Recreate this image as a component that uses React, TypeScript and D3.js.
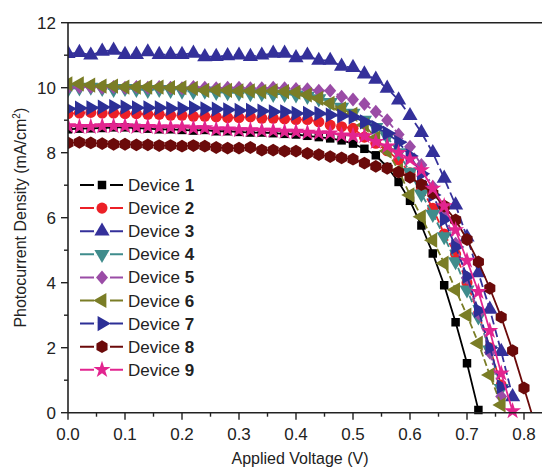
import React from "react";
import * as d3 from "d3";

// voltage steps (V)
const volts = d3.range(0, 42).map((i) => +(i * 0.02).toFixed(2));

const dev1 = [8.72, 8.74, 8.75, 8.76, 8.78, 8.78, 8.76, 8.74, 8.72, 8.72, 8.70, 8.68, 8.70, 8.66, 8.66, 8.64, 8.62, 8.62, 8.60, 8.58, 8.56, 8.52, 8.48, 8.44, 8.38, 8.28, 8.12, 7.92, 7.56, 7.10, 6.52, 5.76, 4.90, 3.92, 2.78, 1.52, 0.08];
const dev2 = [9.20, 9.22, 9.24, 9.22, 9.22, 9.20, 9.20, 9.18, 9.18, 9.15, 9.15, 9.12, 9.12, 9.10, 9.08, 9.08, 9.10, 9.06, 9.06, 9.04, 9.02, 9.02, 8.95, 8.85, 8.80, 8.75, 8.48, 8.29, 8.06, 7.78, 7.38, 6.90, 6.29, 5.50, 4.88, 4.00, 3.05, 2.00, 0.85];
const dev3 = [11.05, 11.08, 11.00, 11.12, 11.15, 11.02, 11.02, 11.10, 11.02, 11.02, 11.02, 11.06, 10.95, 10.96, 10.98, 11.00, 10.96, 11.00, 11.06, 11.06, 10.92, 11.00, 10.84, 10.84, 10.66, 10.62, 10.42, 10.26, 9.98, 9.62, 9.14, 8.62, 8.00, 7.21, 6.39, 5.40, 4.30, 3.18, 1.88, 0.49];
const dev4 = [9.95, 10.00, 10.02, 9.98, 9.95, 9.98, 9.95, 9.92, 9.95, 9.92, 9.90, 9.88, 9.90, 9.86, 9.85, 9.84, 9.82, 9.82, 9.80, 9.80, 9.78, 9.74, 9.66, 9.55, 9.40, 9.22, 9.00, 8.78, 8.49, 8.00, 7.40, 6.73, 6.11, 5.42, 4.65, 3.78, 2.95, 1.93, 0.75];
const dev5 = [10.00, 10.02, 10.02, 10.00, 10.02, 10.00, 10.02, 10.00, 10.02, 10.00, 9.98, 10.02, 10.00, 9.98, 10.00, 10.00, 9.98, 9.98, 10.00, 9.98, 9.96, 9.95, 9.91, 9.91, 9.72, 9.64, 9.50, 9.26, 9.00, 8.56, 8.18, 7.62, 6.95, 6.15, 5.20, 4.15, 3.05, 1.85, 0.50];
const dev6 = [10.12, 10.12, 10.08, 10.05, 10.05, 10.02, 10.02, 10.02, 10.02, 10.00, 10.00, 9.98, 9.92, 9.93, 9.92, 9.90, 9.90, 9.88, 9.90, 9.88, 9.86, 9.78, 9.67, 9.52, 9.35, 9.18, 8.85, 8.45, 8.05, 7.45, 6.70, 6.03, 5.31, 4.60, 3.78, 3.00, 2.14, 1.16, 0.24];
const dev7 = [9.35, 9.37, 9.38, 9.40, 9.42, 9.40, 9.38, 9.38, 9.38, 9.36, 9.36, 9.38, 9.35, 9.34, 9.32, 9.30, 9.30, 9.28, 9.26, 9.26, 9.21, 9.21, 9.21, 9.16, 9.13, 9.10, 8.95, 8.78, 8.60, 8.32, 7.90, 7.35, 6.70, 5.95, 5.10, 4.20, 3.15, 2.00, 0.80];
const dev8 = [8.30, 8.32, 8.30, 8.28, 8.26, 8.26, 8.24, 8.24, 8.22, 8.22, 8.20, 8.22, 8.20, 8.16, 8.14, 8.14, 8.16, 8.08, 8.08, 8.05, 8.05, 7.98, 7.94, 7.88, 7.84, 7.80, 7.68, 7.58, 7.52, 7.40, 7.24, 7.02, 6.75, 6.36, 5.93, 5.33, 4.64, 3.83, 2.94, 1.91, 0.76, -0.40];
const dev9 = [8.82, 8.80, 8.80, 8.82, 8.82, 8.82, 8.80, 8.80, 8.78, 8.78, 8.78, 8.76, 8.76, 8.72, 8.72, 8.70, 8.70, 8.68, 8.68, 8.65, 8.65, 8.62, 8.60, 8.60, 8.54, 8.52, 8.51, 8.34, 8.20, 8.00, 7.80, 7.47, 6.90, 6.36, 5.62, 4.68, 3.72, 2.52, 1.21, 0.05];

const labels = ["1", "2", "3", "4", "5", "6", "7", "8", "9"];
const colors = ["#000000", "#ec2027", "#34309a", "#3f8c8c", "#9a4ca6", "#7a7d26", "#2c2f96", "#6b0a0a", "#e2248f"];
const shapes = ["square", "circle", "up", "down", "diamond", "left", "right", "hexagon", "star"];
const dashes = ["none", "7,3", "9,4", "7,3", "7,3,2,3", "7,3", "9,3", "none", "none"];

const xTicks = [0, 0.1, 0.2, 0.3, 0.4, 0.5, 0.6, 0.7, 0.8];
const yTicks = [0, 2, 4, 6, 8, 10, 12];

const series = [dev1, dev2, dev3, dev4, dev5, dev6, dev7, dev8, dev9];

const W = 542;
const H = 470;
const left = 68;
const right = 541;
const top = 22.7;
const bottom = 412.7;

const x = d3.scaleLinear().domain([0, 0.83]).range([left, left + 0.83 * 570]);
const y = d3.scaleLinear().domain([0, 12]).range([bottom, top]);

function markerPath(shape: string): string {
  const tri = d3.symbol().type(d3.symbolTriangle).size(100)() as string;
  switch (shape) {
    case "square":
      return d3.symbol().type(d3.symbolSquare).size(72)() as string;
    case "circle":
      return d3.symbol().type(d3.symbolCircle).size(96)() as string;
    case "diamond":
      return "M0,-7L6,0L0,7L-6,0Z";
    case "star":
      return d3.symbol().type(d3.symbolStar).size(90)() as string;
    case "hexagon": {
      const r = 6.4;
      const pts = d3.range(6).map((i) => {
        const a = (Math.PI / 3) * i + Math.PI / 6;
        return [r * Math.cos(a), r * Math.sin(a)];
      });
      return "M" + pts.map((p) => p.join(",")).join("L") + "Z";
    }
    default:
      return tri;
  }
}

function rotation(shape: string) {
  if (shape === "down") return 180;
  if (shape === "left") return -90;
  if (shape === "right") return 90;
  return 0;
}

function Marker({ shape, color, cx, cy }: { shape: string; color: string; cx: number; cy: number }) {
  return (
    <path
      d={markerPath(shape)}
      fill={color}
      transform={`translate(${cx},${cy}) rotate(${rotation(shape)})`}
    />
  );
}

export default function App() {
  const line = d3
    .line<number>()
    .x((d, i) => x(volts[i]))
    .y((d) => y(d));

  const font = "Arial, 'Liberation Sans', sans-serif";
  const minorX = d3.range(0.05, 0.83, 0.1);
  const minorY = d3.range(1, 12, 2);

  return (
    <svg width={W} height={H} style={{ position: "absolute", left: 0, top: 0, background: "#fff" }}>
      <defs>
        <clipPath id="plotClip">
          <rect x={left} y={0} width={right - left} height={bottom + 8} />
        </clipPath>
        <clipPath id="lineClip">
          <rect x={left} y={0} width={right - left} height={bottom} />
        </clipPath>
      </defs>

      {/* series */}
      {series.map((vals, si) => (
        <g key={si}>
          <path
            d={line(vals) as string}
            fill="none"
            stroke={colors[si]}
            strokeWidth={1.8}
            strokeDasharray={dashes[si]}
            clipPath="url(#lineClip)"
          />
          <g clipPath="url(#plotClip)">
            {vals.map((v, i) =>
              v >= 0 ? (
                <Marker key={i} shape={shapes[si]} color={colors[si]} cx={x(volts[i])} cy={y(v)} />
              ) : null
            )}
          </g>
        </g>
      ))}

      {/* frame */}
      <line x1={left} x2={right + 2} y1={top} y2={top} stroke="#222" strokeWidth={1.6} />
      <line x1={left} x2={right + 2} y1={bottom} y2={bottom} stroke="#222" strokeWidth={1.6} />
      <line x1={left} x2={left} y1={top} y2={bottom} stroke="#222" strokeWidth={1.6} />

      {/* x ticks */}
      {xTicks.map((t) => (
        <g key={t}>
          <line x1={x(t)} x2={x(t)} y1={bottom} y2={bottom + 7} stroke="#222" strokeWidth={1.4} />
          <text x={x(t)} y={bottom + 27} textAnchor="middle" fontSize={17} fontFamily={font} fill="#222">
            {t.toFixed(1)}
          </text>
        </g>
      ))}
      {minorX.map((t) => (
        <line key={t} x1={x(t)} x2={x(t)} y1={bottom} y2={bottom + 4} stroke="#222" strokeWidth={1.4} />
      ))}

      {/* y ticks */}
      {yTicks.map((t) => (
        <g key={t}>
          <line x1={left - 7} x2={left} y1={y(t)} y2={y(t)} stroke="#222" strokeWidth={1.4} />
          <text x={56} y={y(t) + 6} textAnchor="end" fontSize={17} fontFamily={font} fill="#222">
            {t}
          </text>
        </g>
      ))}
      {minorY.map((t) => (
        <line key={t} x1={left - 4} x2={left} y1={y(t)} y2={y(t)} stroke="#222" strokeWidth={1.4} />
      ))}

      {/* axis titles */}
      <text x={300} y={464} textAnchor="middle" fontSize={16} fontFamily={font} fill="#222">
        Applied Voltage (V)
      </text>
      <text
        transform={`translate(26,${(top + bottom) / 2}) rotate(-90)`}
        textAnchor="middle"
        fontSize={16}
        fontFamily={font}
        fill="#222"
      >
        Photocurrent Density (mA/cm<tspan dy={-6} fontSize={10}>2</tspan>
        <tspan dy={6}>)</tspan>
      </text>

      {/* legend */}
      {labels.map((lab, i) => {
        const ly = 185 + i * 23.1;
        return (
          <g key={lab}>
            <line x1={80} x2={123} y1={ly} y2={ly} stroke={colors[i]} strokeWidth={2} />
            <line x1={94} x2={110} y1={ly} y2={ly} stroke="#fff" strokeWidth={3} />
            <Marker shape={shapes[i]} color={colors[i]} cx={102} cy={ly} />
            <text x={128} y={ly + 6} fontSize={17} fontFamily={font} fill="#222">
              Device <tspan fontWeight="bold">{lab}</tspan>
            </text>
          </g>
        );
      })}
    </svg>
  );
}
